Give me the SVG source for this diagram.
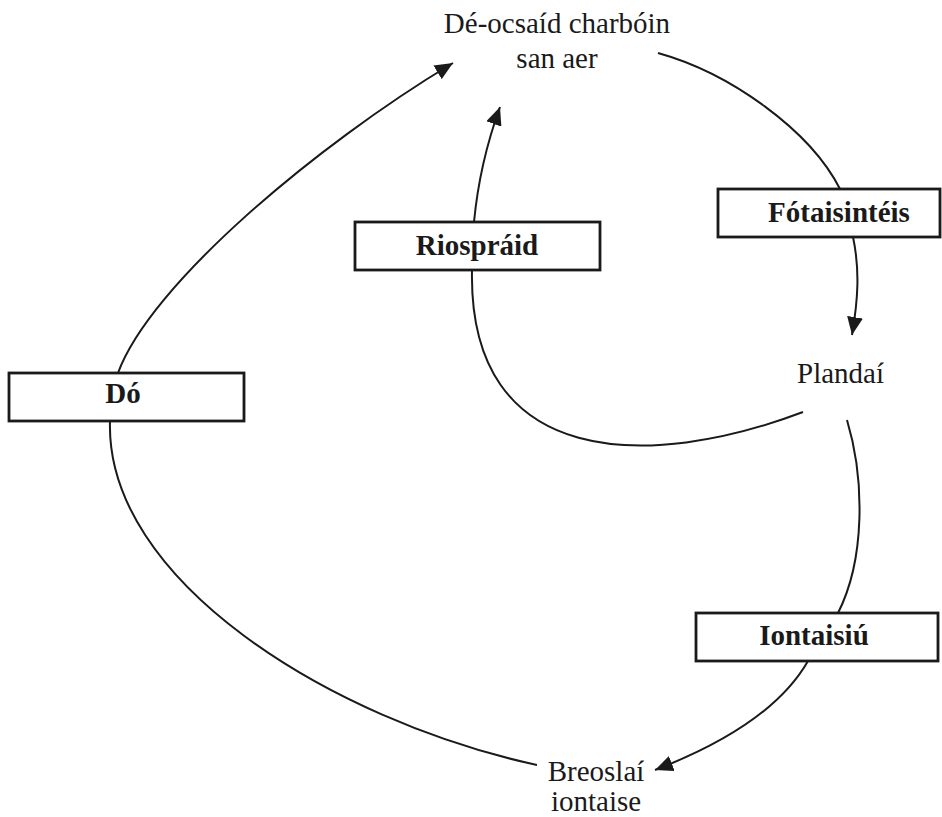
<svg xmlns="http://www.w3.org/2000/svg" width="942" height="817" viewBox="0 0 942 817">
<style>
.box{fill:#fff;stroke:#1a1a1a;stroke-width:2.8}
.lbl{font-family:"Liberation Serif","Times New Roman",serif;font-size:29px;font-weight:bold;fill:#1a1a1a;text-anchor:middle}
.txt{font-family:"Liberation Serif","Times New Roman",serif;font-size:29px;fill:#1a1a1a}
.c{fill:none;stroke:#1a1a1a;stroke-width:2}
</style>
<defs>
<marker id="ah" markerUnits="userSpaceOnUse" markerWidth="20" markerHeight="16" refX="18" refY="8" orient="auto">
<path d="M0,0 L18,8 L0,16 Z" fill="#1a1a1a"/>
</marker>
</defs>
<rect width="942" height="817" fill="#fff"/>
<g id="connectors">
<path class="c" d="M118,373 C150,285 315,146 453,63" marker-end="url(#ah)"/>
<path class="c" d="M474,222 C478,180 488,140 500,107" marker-end="url(#ah)"/>
<path class="c" d="M658,53 C730,73 810,130 840,189"/>
<path class="c" d="M853,237 C860,270 858,300 852,335" marker-end="url(#ah)"/>
<path class="c" d="M803,412 C650,470 468,470 472,270"/>
<path class="c" d="M847,420 C865,480 865,560 838,613"/>
<path class="c" d="M808,661 C780,710 720,745 655,770" marker-end="url(#ah)"/>
<path class="c" d="M537,765 C330,720 105,580 110,421"/>
</g>
<g id="co2">
<text class="txt" x="557" y="33" text-anchor="middle">Dé-ocsaíd charbóin</text>
<text class="txt" x="557" y="68" text-anchor="middle">san aer</text>
</g>
<g id="plandai">
<text class="txt" x="797" y="383">Plandaí</text>
</g>
<g id="breoslai">
<text class="txt" x="596" y="781" text-anchor="middle" font-size="27">Breoslaí</text>
<text class="txt" x="596" y="811" text-anchor="middle" font-size="27">iontaise</text>
</g>
<g id="riospraid">
<rect class="box" x="355" y="222" width="245" height="48"/>
<text class="lbl" x="477" y="255">Riospráid</text>
</g>
<g id="fotaisinteis">
<rect class="box" x="718" y="189" width="222" height="48"/>
<text class="lbl" x="839" y="222">Fótaisintéis</text>
</g>
<g id="do">
<rect class="box" x="9" y="373" width="235" height="48"/>
<text class="lbl" x="123" y="403">Dó</text>
</g>
<g id="iontaisiu">
<rect class="box" x="696" y="613" width="242" height="48"/>
<text class="lbl" x="814" y="645">Iontaisiú</text>
</g>
</svg>
